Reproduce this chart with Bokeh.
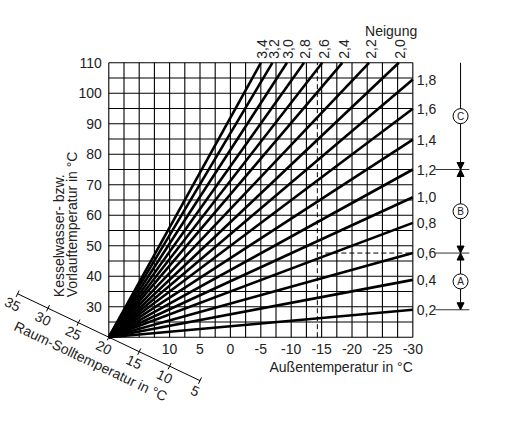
import math
from bokeh.plotting import figure
from bokeh.models import Range1d, Arrow, NormalHead, ColumnDataSource
from bokeh.core.properties import value
from bokeh.embed import file_html
from bokeh.resources import INLINE

# Neigung (slope) of each heating curve and where it ends
slopes = ["0,2", "0,4", "0,6", "0,8", "1,0", "1,2", "1,4", "1,6", "1,8",
          "2,0", "2,2", "2,4", "2,6", "2,8", "3,0", "3,2", "3,4"]
end_out = [-30, -30, -30, -30, -30, -30, -30, -30, -30,
           -27.7, -22.8, -18.4, -15.1, -12.1, -9.3, -6.9, -5.0]
end_flow = [29.0, 38.8, 47.6, 57.5, 65.9, 75.0, 84.8, 94.9, 104.5,
            110, 110, 110, 110, 110, 110, 110, 110]

# axis ticks
out_ticks = [10, 5, 0, -5, -10, -15, -20, -25, -30]
flow_ticks = [30, 40, 50, 60, 70, 80, 90, 100, 110]
room_ticks = [35, 30, 25, 20, 15, 10, 5]

# grid every 2.5 K / 5 K
grid_x = [20 - 2.5 * i for i in range(21)]
grid_y = [20 + 5 * i for i in range(19)]

# reading example (dashed) and ranges A, B, C
example_out = -14.3
example_flow = [75.0, 47.6]
range_marks = [75.0, 47.6, 29.0]
range_letters = ["C", "B", "A"]
range_mid = [92.5, 61.3, 38.3]

FONT = value("Liberation Sans")
FS = "14px"
ROOM_K = 0.95          # slanted room-temperature axis
ANG = math.atan(ROOM_K * 5 * 3.049 / (5 * 6.08))

p = figure(width=491, height=405, output_backend="svg", toolbar_location=None,
           x_range=Range1d(37.81, -42.94), y_range=Range1d(-2.40, 130.43),
           min_border=0)
p.axis.visible = False
p.grid.visible = False
p.outline_line_color = None

# grid
p.segment(x0=grid_x, y0=20, x1=grid_x, y1=110, line_color="black", line_width=1.1)
p.segment(x0=20, y0=grid_y, x1=-30, y1=grid_y, line_color="black", line_width=1.1)

# dashed example
p.segment(x0=[example_out], y0=[20], x1=[example_out], y1=[110],
          line_color="black", line_width=1, line_dash="5 3")
p.segment(x0=example_out, y0=example_flow, x1=-30, y1=example_flow,
          line_color="black", line_width=1, line_dash="5 3")

# heating curves
src = ColumnDataSource(dict(x=end_out, y=end_flow, s=slopes))
p.segment(x0=20, y0=20, x1="x", y1="y", source=src, line_color="black", line_width=2.6)

side = ColumnDataSource(dict(x=end_out[:9], y=end_flow[:9], s=slopes[:9]))
p.text(x="x", y="y", text="s", source=side, x_offset=4, text_align="left",
       text_baseline="middle", text_font=FONT, text_font_size=FS, text_color="#222")
top = ColumnDataSource(dict(x=end_out[9:], y=end_flow[9:], s=slopes[9:]))
p.text(x="x", y="y", text="s", source=top, x_offset=1.5, y_offset=-4, angle=math.pi / 2,
       text_align="left", text_baseline="middle", text_font=FONT,
       text_font_size=FS, text_color="#222")
p.text(x=[-30], y=[110], text=["Neigung"], x_offset=4.4, y_offset=-32, text_align="right",
       text_baseline="middle", text_font=FONT, text_font_size=FS, text_color="#222")

# tick labels
p.text(x=20, y=flow_ticks, text=[str(v) for v in flow_ticks], x_offset=-7,
       text_align="right", text_baseline="middle", text_font=FONT,
       text_font_size=FS, text_color="#222")
p.text(x=out_ticks, y=20, text=[str(v) for v in out_ticks], y_offset=12,
       text_align="center", text_baseline="middle", text_font=FONT,
       text_font_size=FS, text_color="#222")
p.text(x=[-30], y=[20], text=["Außentemperatur in °C"], y_offset=30,
       text_align="right", text_baseline="middle", text_font=FONT,
       text_font_size=FS, text_color="#222")
p.text(x=[20, 20], y=[20, 20], text=["Kesselwasser- bzw.", "Vorlauftemperatur in °C"],
       x_offset=[-50, -36.6], y_offset=-40, angle=math.pi / 2, text_align="left",
       text_baseline="middle", text_font=FONT, text_font_size=FS, text_color="#222")

# slanted room temperature axis
room_y = [20 + ROOM_K * (r - 20) for r in room_ticks]
p.line(room_ticks, room_y, line_color="black", line_width=1)
p.scatter(room_ticks, room_y, marker="dash", size=7, angle=math.pi / 2 - ANG,
          line_color="black", line_width=1)
p.text(x=room_ticks, y=room_y, text=[str(r) for r in room_ticks],
       x_offset=-11.5 * math.sin(ANG), y_offset=11.5 * math.cos(ANG), angle=-ANG,
       text_align="center", text_baseline="middle", text_font=FONT,
       text_font_size=FS, text_color="#222")
p.text(x=[20], y=[20], text=["Raum-Solltemperatur in °C"], x_offset=-18, y_offset=24,
       angle=-ANG, text_align="center", text_baseline="middle", text_font=FONT,
       text_font_size=FS, text_color="#222")

# ranges A, B, C on the right
ann_x = -37.85
p.segment(x0=-33.7, y0=range_marks, x1=-39.3, y1=range_marks, line_color="#333", line_width=1)
bounds = [110] + range_marks
for i in range(3):
    head = dict(size=7, fill_color="black", line_color="black", line_width=1)
    if i == 0:
        arr = Arrow(x_start=ann_x, y_start=bounds[0], x_end=ann_x, y_end=bounds[1],
                    start=None, end=NormalHead(**head), line_width=1)
    else:
        arr = Arrow(x_start=ann_x, y_start=bounds[i + 1], x_end=ann_x, y_end=bounds[i],
                    start=NormalHead(**head), end=NormalHead(**head), line_width=1)
    p.add_layout(arr)
p.scatter([ann_x] * 3, range_mid, marker="circle", size=15, fill_color="white",
          line_color="black", line_width=1, level="overlay")
p.text(x=ann_x, y=range_mid, text=range_letters, text_align="center",
       text_baseline="middle", text_font=FONT, text_font_size="10px", text_color="#222",
       level="overlay")

open("out.html", "w").write(file_html(p, INLINE))
